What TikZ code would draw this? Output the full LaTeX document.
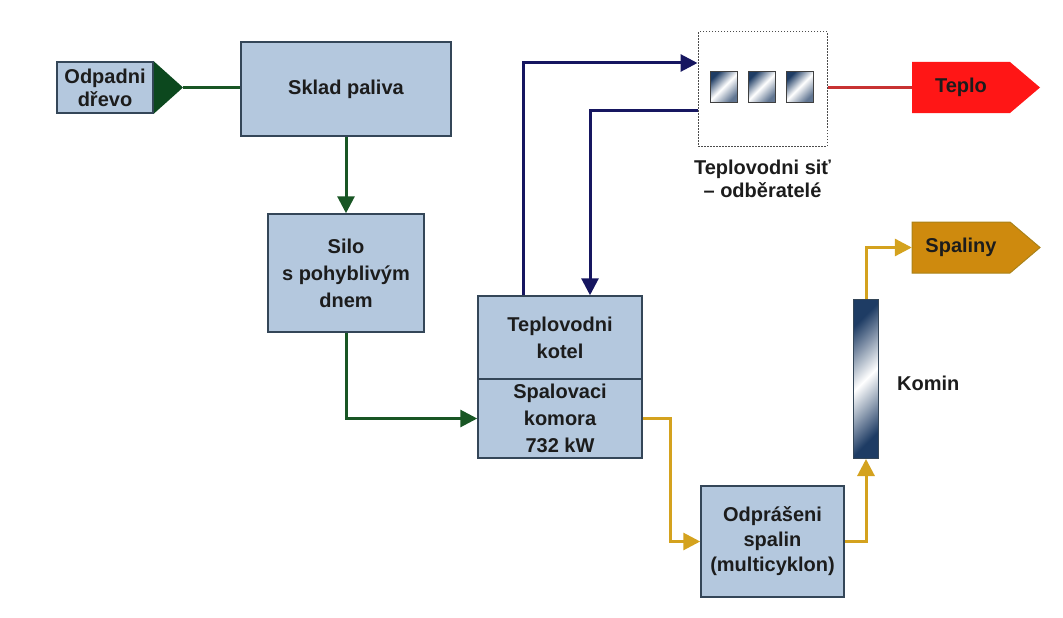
\documentclass[tikz,border=0pt]{standalone}
\usepackage{fontspec}
\setmainfont{Liberation Sans}
\usetikzlibrary{arrows.meta}
\definecolor{boxblue}{RGB}{180,200,222}
\definecolor{boxline}{RGB}{52,70,88}
\definecolor{woodgreen}{RGB}{24,86,36}
\definecolor{tipgreen}{RGB}{12,72,30}
\definecolor{waternavy}{RGB}{22,22,96}
\definecolor{fluegold}{RGB}{212,162,30}
\definecolor{fluefill}{RGB}{206,138,14}
\definecolor{heatred}{RGB}{255,22,22}
\definecolor{heatline}{RGB}{200,50,50}
\definecolor{glass}{RGB}{30,60,100}
\definecolor{txt}{RGB}{28,28,28}
\begin{document}
\begin{tikzpicture}[x=1pt, y=-1pt,
    blok/.style={draw=boxline, fill=boxblue, line width=1.5pt, inner sep=0pt, align=center, text=txt, font=\bfseries\fontsize{20}{27}\selectfont},
    popis/.style={inner sep=0pt, align=center, text=txt, font=\bfseries\fontsize{20}{23}\selectfont},
    greenflow/.style={->, line width=3pt, draw=woodgreen, >={Triangle[length=17pt,width=17pt]}},
    blueflow/.style={->, line width=3pt, draw=waternavy, >={Triangle[length=17pt,width=17pt]}},
    goldflow/.style={->, line width=3pt, draw=fluegold, >={Triangle[length=17pt,width=17pt]}}]
    \useasboundingbox (0,0) rectangle (1063,618);

    \node[blok, minimum width=96pt, minimum height=51pt, font=\bfseries\fontsize{20}{23}\selectfont] (odpad) at (105,87.5) {Odpadni\\dřevo};
    \coordinate (odpadtip) at (183,87.5);
    \fill[tipgreen] (odpad.north east) -- (odpadtip) -- (odpad.south east) -- cycle;

    \node[blok, minimum width=210pt, minimum height=94pt] (sklad) at (346,89) {Sklad paliva};
    \node[blok, minimum width=156pt, minimum height=118pt] (silo) at (346,273) {Silo\\s pohyblivým\\dnem};
    \node[blok, minimum width=164pt, minimum height=83pt] (kotel) at (560,337.5) {Teplovodni\\kotel};
    \node[blok, minimum width=164pt, minimum height=79pt] (komora) at (560,418.5) {Spalovaci\\komora\\732 kW};
    \node[blok, minimum width=143pt, minimum height=111pt, font=\bfseries\fontsize{20}{25}\selectfont] (odpras) at (772.5,541.5) {Odprášeni\\spalin\\(multicyklon)};

    \node[draw=black!70, fill=white, line width=1pt, dash pattern=on 1.5pt off 1.5pt, minimum width=129pt, minimum height=114pt] (sit) at (762.5,89) {};
    \foreach \i/\x in {1/723.5,2/761.5,3/799.5} {
        \node[draw=black!75, line width=1pt, minimum width=27pt, minimum height=30pt, top color=glass, bottom color=glass!70, middle color=white, shading angle=45] (okno\i) at (\x,87) {};
    }
    \node[popis] (sitlbl) at (762.5,178.5) {Teplovodni siť\\– odběratelé};

    \node[draw=boxline, line width=1pt, minimum width=25pt, minimum height=159pt, top color=glass, bottom color=glass, middle color=white, shading angle=45] (komin) at (866,379) {};
    \node[popis, anchor=west] (kominlbl) at (897,383) {Komin};

    \fill[heatred] (912,62) -- (1010,62) -- (1040,87.5) -- (1010,113) -- (912,113) -- cycle;
    \node[popis, minimum width=98pt, minimum height=51pt] (teplo) at (961,87.5) {Teplo};
    \draw[fill=fluefill, draw=fluegold!80!black, line width=1pt] (912,222) -- (1010,222) -- (1040,247.5) -- (1010,273) -- (912,273) -- cycle;
    \node[popis, minimum width=98pt, minimum height=51pt] (spaliny) at (961,247.5) {Spaliny};

    \draw[line width=3pt, draw=woodgreen] (odpadtip) -- (sklad.west |- odpadtip);
    \draw[greenflow] (sklad.south) -- (silo.north);
    \draw[greenflow] (silo.south) |- (komora.west);

    \draw[blueflow] (kotel.north -| 523,0) |- (sit.west |- 0,63);
    \draw[blueflow] (sit.west |- 0,110) -| (kotel.north -| 590,0);
    \draw[line width=2pt, draw=heatline] (sit.east |- teplo.west) -- (teplo.west);

    \draw[goldflow] (komora.east) -- ++(28,0) |- (odpras.west);
    \draw[goldflow] (odpras.east) -| (komin.south);
    \draw[goldflow] (komin.north) |- (spaliny.west);
\end{tikzpicture}
\end{document}
